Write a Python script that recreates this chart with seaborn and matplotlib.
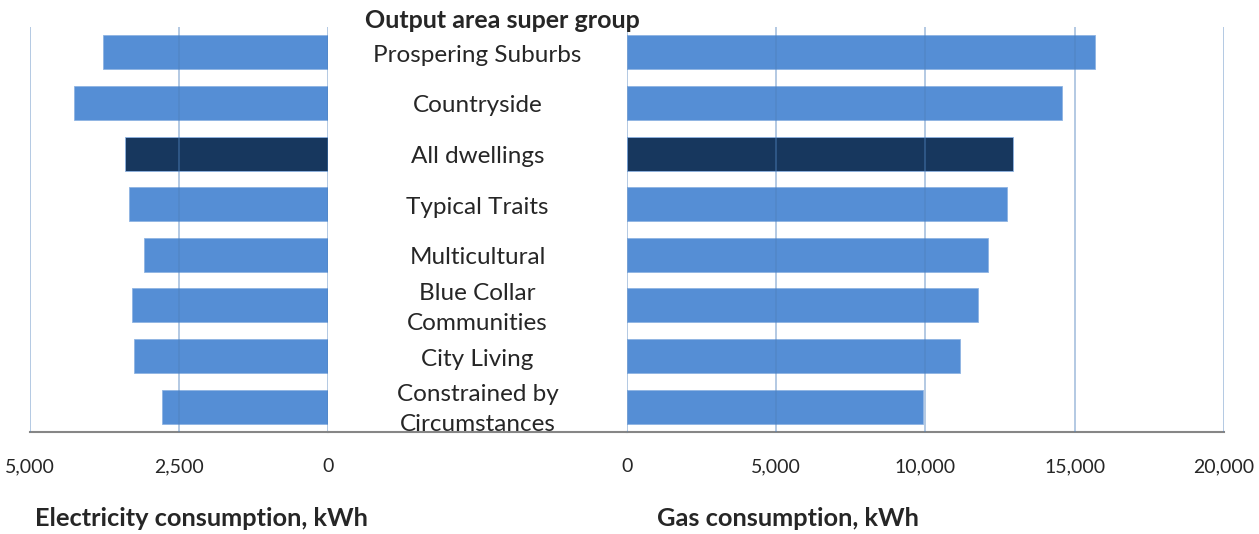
import numpy as np
import pandas as pd
import matplotlib
matplotlib.use('Agg')
import matplotlib.pyplot as plt
import seaborn as sns

# 데이터
cats = ['Prospering Suburbs', 'Countryside', 'All dwellings', 'Typical Traits',
        'Multicultural', 'Blue Collar\nCommunities', 'City Living',
        'Constrained by\nCircumstances']
elec = [3770, 4260, 3410, 3345, 3090, 3285, 3250, 2790]        # kWh
gas = [15680, 14575, 12940, 12740, 12095, 11770, 11165, 9925]   # kWh
elec_ticks = [5000, 2500, 0]
gas_ticks = [0, 5000, 10000, 15000, 20000]

df = pd.DataFrame({'cat': cats, 'elec': elec, 'gas': gas})

sns.set_style('white')
plt.rcParams['font.family'] = ['Lato', 'DejaVu Sans']

light = '#558ED5'
dark = '#17375E'
pal = {c: (dark if c == 'All dwellings' else light) for c in cats}
txt = '#262626'
grid_c = '#4F81BD'
spine_c = '#868686'

W, H = 1259, 534
fig = plt.figure(figsize=(W / 100, H / 100), dpi=100)

y0 = (H - 432) / H
h = 405 / H
ax_l = fig.add_axes([30 / W, y0, 298 / W, h])
ax_m = fig.add_axes([328 / W, y0, 299 / W, h])
ax_r = fig.add_axes([627 / W, y0, 597 / W, h])

sns.barplot(data=df, x='elec', y='cat', hue='cat', palette=pal, legend=False,
            saturation=1, width=0.67, ax=ax_l, edgecolor='#8EB4E3', linewidth=0.6)
sns.barplot(data=df, x='gas', y='cat', hue='cat', palette=pal, legend=False,
            saturation=1, width=0.67, ax=ax_r, edgecolor='#8EB4E3', linewidth=0.6)

ax_l.set_xlim(5000, 0)
ax_r.set_xlim(0, 20000)
ax_m.set_xlim(0, 1)
for ax in (ax_l, ax_m, ax_r):
    ax.set_ylim(len(cats) - 0.5, -0.5)
    ax.set_ylabel('')
    ax.set_xlabel('')
    ax.set_yticks([])
    for s in ('top', 'left', 'right'):
        ax.spines[s].set_visible(False)
    ax.spines['bottom'].set_color(spine_c)
    ax.spines['bottom'].set_linewidth(1.5)
    ax.tick_params(axis='x', direction='out', length=5, width=1.2,
                   color=spine_c, pad=14, labelsize=14, labelcolor=txt)
    ax.set_facecolor('none')

ax_l.set_xticks(elec_ticks)
ax_l.set_xticklabels([f'{v:,}' for v in elec_ticks])
ax_r.set_xticks(gas_ticks)
ax_r.set_xticklabels([f'{v:,}' for v in gas_ticks])
ax_m.set_xticks([0.5])
ax_m.set_xticklabels([''])

# 그리드는 막대 위로
for ax, ticks in ((ax_l, elec_ticks), (ax_r, gas_ticks)):
    for t in ticks:
        ax.axvline(t, color=grid_c, alpha=0.5, lw=1.2, zorder=5)

# 가운데 범주 라벨
for i, c in enumerate(cats):
    ax_m.text(0.5, i + 0.06, c, ha='center', va='center', fontsize=17.5,
              color=txt, linespacing=1.5)

fig.text(502 / W, 1 - 20 / H, 'Output area super group', ha='center',
         va='center', fontsize=18, fontweight='bold', color=txt)
fig.text(35 / W, 1 - 518 / H, 'Electricity consumption, kWh', ha='left',
         va='center', fontsize=18.3, fontweight='bold', color=txt)
fig.text(657 / W, 1 - 518 / H, 'Gas consumption, kWh', ha='left',
         va='center', fontsize=18.3, fontweight='bold', color=txt)

plt.savefig('out.png', dpi=100)
